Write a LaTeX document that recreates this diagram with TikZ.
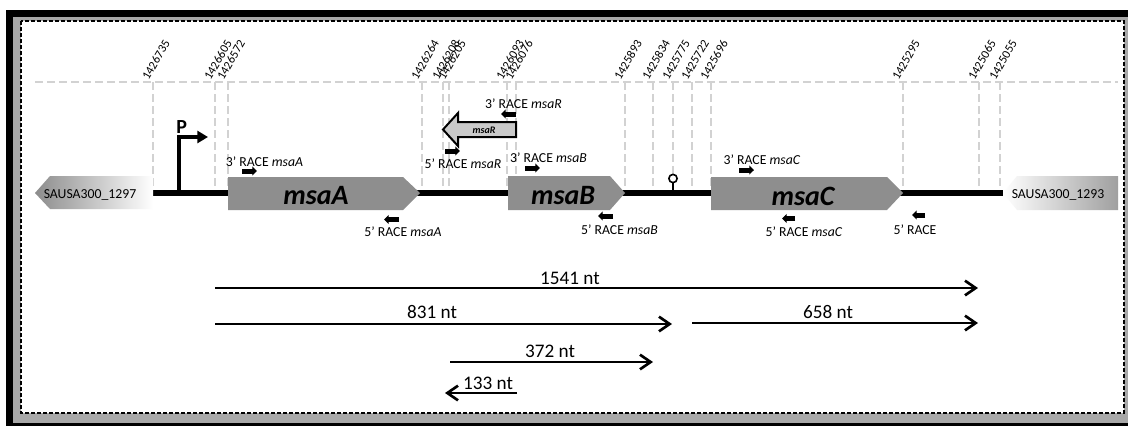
\documentclass[tikz,border=0pt]{standalone}
\usepackage{fontspec}
\setmainfont{Carlito}
\usetikzlibrary{arrows.meta}
\definecolor{genegray}{HTML}{8E8E8E}
\definecolor{rnagray}{HTML}{C9C9C9}
\definecolor{guidegray}{HTML}{D2D2D2}
\definecolor{rimgray}{HTML}{A8A8A8}

\begin{document}
\begin{tikzpicture}[x=0.75pt,y=-0.75pt,
  guide/.style={guidegray,line width=0.8pt,dash pattern=on 6pt off 3pt},
  poslbl/.style={font=\fontsize{9.2}{10}\selectfont,rotate=60,anchor=base west,inner sep=0pt},
  racelbl/.style={font=\fontsize{10.3}{12}\selectfont,anchor=base,inner sep=0pt},
  ntlbl/.style={font=\fontsize{14.4}{16}\selectfont,anchor=base,inner sep=0pt},
  genelbl/.style={font=\fontsize{21}{24}\selectfont\bfseries\itshape,anchor=base,inner sep=0pt},
  primer/.style={line width=3.75pt,-{Triangle[length=3.5pt,width=6.75pt]}},
  transcript/.style={line width=1.5pt,-{Straight Barb[length=8pt,width=11pt,line width=2pt]}}]
  \useasboundingbox (0,0) rectangle (1128,426);
  % frame
  \fill[black] (6,10) rectangle (1128,426);
  \fill[rimgray] (13,17) rectangle (1128,423);
  \draw[fill=white,line width=0.9pt,dash pattern=on 3pt off 1.5pt] (21,21) rectangle (1124,413);

  % genome positions
  \draw[guide] (35,82)--(1118,82);
  \foreach \px/\pos in {153/1426735,215/1426605,228/1426572,422/1426264,443/1426208,
      449/1426205,507/1426093,516/1426076,625/1425893,653/1425834,673/1425775,
      692/1425722,711/1425696,903/1425295,979/1425065,1000/1425055}{
    \draw[guide] (\px,82)--(\px,193);
    \node[poslbl] (p\pos) at (\px-4.5,81) {\pos};
  }

  \draw[line width=4pt] (153,193)--(1003,193);
  \shade[left color=gray!90,right color=white] (35,193)--(50,176)--(153,176)--(153,209)--(50,209)--cycle;
  \shade[left color=white,right color=gray!75] (1003,193)--(1017,176)--(1118,176)--(1118,210)--(1017,210)--cycle;
  \node[racelbl] (n1297) at (90,198) {SAUSA300\_1297};
  \node[racelbl] (n1293) at (1058,198) {SAUSA300\_1293};

  \fill[genegray] (228,177)--(403,177)--(420,193)--(403,210)--(228,210)--cycle;
  \fill[genegray] (508,176)--(610,176)--(625,193)--(610,210)--(508,210)--cycle;
  \fill[genegray] (711,177)--(887,177)--(903,193)--(887,210)--(711,210)--cycle;
  \node[genelbl] (msaA) at (316,204) {msaA};
  \node[genelbl] (msaB) at (563,204) {msaB};
  \node[genelbl] (msaC) at (803,205) {msaC};

  \draw[line width=1.5pt,fill=rnagray] (516,122)--(458,122)--(458,113)--(443,129.5)--(458,146)--(458,137)--(516,137)--cycle;
  \node[font=\fontsize{7.5}{9}\selectfont\bfseries\itshape,anchor=base,inner sep=0pt] (msaR) at (484,133) {msaR};

  % promoter and terminator
  \draw[line width=3.25pt,-{Triangle[length=8pt,width=9pt]}] (179,193) |- (208,137);
  \node[font=\fontsize{15}{17}\selectfont\bfseries,anchor=base west,inner sep=0pt] (P) at (176,133) {P};
  \draw[line width=1.2pt] (673,193)--(673,182.5);
  \draw[line width=1.2pt,fill=white] (673,178.5) circle[radius=3.1pt];

  % RACE primers
  \draw[primer] (242,171)--(257,171);
  \node[racelbl] (r3A) at (264.5,166.5) {3’ RACE \textit{msaA}};
  \draw[primer] (516,114)--(501,114);
  \node[racelbl] (r3R) at (523.5,108) {3’ RACE \textit{msaR}};
  \draw[primer] (445,151)--(460,151);
  \node[racelbl] (r5R) at (463,168) {5’ RACE \textit{msaR}};
  \draw[primer] (525,168)--(540,168);
  \node[racelbl] (r3B) at (548.5,162.5) {3’ RACE \textit{msaB}};
  \draw[primer] (739,170)--(754,170);
  \node[racelbl] (r3C) at (762,164) {3’ RACE \textit{msaC}};
  \draw[primer] (399,219.5)--(384,219.5);
  \node[racelbl] (r5A) at (403,236.5) {5’ RACE \textit{msaA}};
  \draw[primer] (613,216)--(598,216);
  \node[racelbl] (r5B) at (619.5,234) {5’ RACE \textit{msaB}};
  \draw[primer] (795,218.5)--(782,218.5);
  \node[racelbl] (r5C) at (804,236) {5’ RACE \textit{msaC}};
  \draw[primer] (925,215)--(912,215);
  \node[racelbl] (r5) at (915,234) {5’ RACE};

  % transcripts
  \draw[transcript] (215,288)--(978,288);
  \node[ntlbl] (t1541) at (570,284) {1541 nt};
  \draw[transcript] (215,324)--(672,324);
  \node[ntlbl] (t831) at (432,318) {831 nt};
  \draw[transcript] (692,323)--(978,323);
  \node[ntlbl] (t658) at (828,318) {658 nt};
  \draw[transcript] (450,362)--(653,362);
  \node[ntlbl] (t372) at (550,357) {372 nt};
  \draw[transcript] (517,393)--(445,393);
  \node[ntlbl] (t133) at (488,389) {133 nt};
\end{tikzpicture}
\end{document}
